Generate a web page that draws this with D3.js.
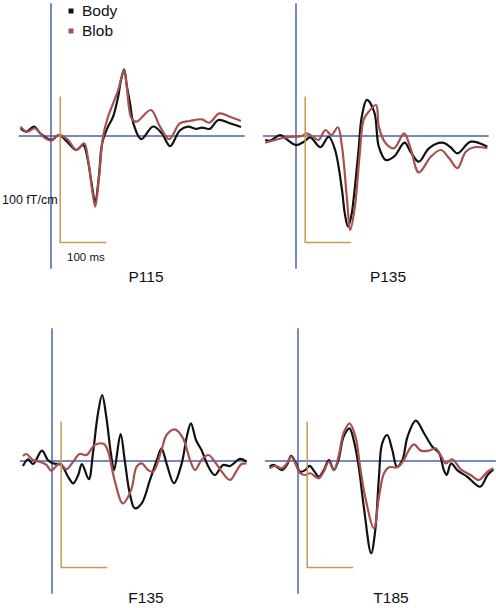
<!DOCTYPE html>
<html>
<head>
<meta charset="utf-8">
<script src="https://cdn.jsdelivr.net/npm/d3@7"></script>
<style>
  body { margin: 0; background: #fff; }
  svg { display: block; font-family: "Liberation Sans", Arial, sans-serif; }
</style>
</head>
<body>
<svg id="chart" width="496" height="608"></svg>
<script>
// sensor names and conditions
const panelNames = ["P115", "P135", "F135", "T185"];
const seriesNames = ["Body", "Blob"];

// [time ms, amplitude fT/cm]
const p115Body = [[-66, 5.3], [-54, 2.9], [-37, 6.4], [-22, 1.4], [1, -2.7], [17, 0.7], [37, -4.6], [55, -9.6], [70, -6.2], [80, -16.4], [89, -34], [96, -45], [104, -28], [109, -9.6], [113, -2.7], [124, 6.4], [135, 13.2], [146, 27], [152, 38], [159, 45.7], [165, 34], [172, 22], [179, 8.7], [196, -2.1], [222, 6.5], [241, 1.8], [259, -6.9], [280, 3.8], [298, 6.4], [315, 4.9], [328, 5.8], [345, 4.9], [364, 11], [389, 8.7], [413, 6.2]];
const p115Blob = [[-66, 6.4], [-52, 2.9], [-35, 5.3], [-17, -0.5], [1, -3.2], [17, 0.7], [37, -2.7], [55, -9.6], [72, -5], [81, -17], [89, -36], [96, -48.4], [104, -30], [113, -0.5], [124, 13.2], [138, 24.7], [146, 31.5], [159, 45.2], [165, 33], [175, 12.1], [186, 9.8], [217, 17.8], [237, 6.4], [257, -2.1], [280, 8.7], [302, 10.3], [328, 11.4], [344, 9.1], [366, 15.5], [389, 13.2], [413, 10.3]];

const p135Body = [[-67, -2.7], [-56, -3.2], [-34, 0.7], [-20, -2.3], [0, -6.2], [17, -3.9], [31, -0.9], [53, -7.7], [71, -0.5], [85, -9.6], [100, -37], [106, -53], [113, -62], [120, -55], [125, -43.8], [136, -9.6], [143, 13.2], [154, 24.7], [170, 16.6], [180, -7.3], [195, -16.4], [213, -14.2], [236, -4.6], [249, -10.8], [267, -17.6], [289, -8.4], [318, -4.6], [336, -7.7], [351, -11.9], [380, -3.9], [416, -7.3]];
const p135Blob = [[-67, -4.6], [-45, -2.7], [-23, -0.9], [-2, -0.5], [13, 0], [24, 1.8], [38, -0.9], [49, -2.7], [64, 4.1], [77, 0.7], [91, 6], [100, -7.3], [111, -43.8], [118, -64.4], [128, -48.4], [138, -14.2], [147, 11], [158, 16.6], [174, 21.2], [180, 6.4], [195, -5], [213, -8.4], [235, 1.8], [249, -8.4], [267, -25], [293, -14.2], [315, -9.6], [333, -15.3], [351, -22], [369, -10.8], [387, -7.7], [416, -8.4]];

const f135Body = [[-63, -3.4], [-52, 1.2], [-41, -2.1], [-22, 7.1], [-9, 0.7], [2, -1.6], [20, -2.7], [35, -10.8], [46, -15.3], [57, -9.6], [65, -2.1], [80, -12.5], [89, 5.3], [100, 32.7], [109, 45.2], [118, 30.3], [128, 5.3], [135, -6.2], [149, 18.5], [158, 0.7], [169, -22.1], [180, -32.4], [195, -29], [213, -13], [228, 0.7], [238, 8.7], [249, -1.6], [265, -15.3], [282, -1.6], [293, 16.6], [302, 25.8], [313, 14.4], [325, 7.5], [340, -3.9], [354, -9.6], [372, -2.7], [387, -3.4], [409, 1.4], [423, -0.5]];
const f135Blob = [[-63, 3.4], [-56, 4.8], [-41, 0.7], [-27, -0.5], [-12, -2.7], [-2, -6.6], [17, -1.6], [31, -5.7], [46, -0.5], [60, 4.8], [75, 4.1], [93, 11], [113, 11.6], [122, 6.4], [136, -13], [154, -29], [172, -19.9], [184, -3.9], [195, -1.6], [209, -6.2], [220, -7.3], [238, 7.5], [249, 17.8], [267, 21.7], [285, 15.5], [300, 0.7], [311, -6.2], [325, 0.7], [340, 4.1], [354, -0.5], [369, -7.3], [387, -13], [402, -6.2], [412, -2.1], [423, -1.6]];

const t185Body = [[-62, -3.9], [-53, -2.7], [-35, -6.2], [-24, -2.7], [-15, 3.6], [-6, -0.5], [5, -7.3], [16, -6.2], [25, -3.4], [36, -7.3], [45, -10.8], [56, -6.2], [67, 0.7], [78, -6.2], [88, 0.7], [99, 16.6], [112, 22.4], [121, 14.4], [132, -3.9], [143, -31.3], [159, -63.2], [168, -47.3], [176, -10.8], [183, 12.1], [194, 17.8], [205, 7.5], [215, -3.9], [227, 0.7], [238, 16.6], [256, 27.6], [274, 19], [292, 9.8], [307, 5.3], [317, -6.2], [323, -9.6], [333, -1.6], [346, -6.2], [368, -10.8], [396, -17.6], [412, -9.6], [425, -5.7]];
const t185Blob = [[-62, -5], [-49, -3.4], [-35, -5], [-24, -1.6], [-15, 2.9], [-6, -1.6], [5, -8.4], [16, -9.6], [27, -8.4], [38, -10.8], [45, -11.9], [56, -7.3], [67, -0.5], [78, -6.2], [88, 2.9], [99, 19], [112, 25.8], [125, 16.6], [135, -3.9], [146, -24.5], [165, -46.1], [176, -24.5], [187, -8.4], [198, -4.3], [216, -4.3], [230, 0.7], [241, 7.5], [252, 11.4], [267, 7.1], [285, 7.1], [299, 8.7], [310, 4.1], [321, -1.6], [335, 1.2], [354, -5.7], [375, -9.6], [393, -13], [412, -7.3], [425, -5]];

const panelData = {
  P115: [p115Body, p115Blob],
  P135: [p135Body, p135Blob],
  F135: [f135Body, f135Blob],
  T185: [t185Body, t185Blob]
};

// where time 0 / 0 fT/cm sits for each panel, plus extent of the baseline
const layout = {
  P115: { x0: 51,  y0: 136, tMin: -70, tMax: 421, labelX: 146, labelY: 282 },
  P135: { x0: 296, y0: 136, tMin: -72, tMax: 419, labelX: 388, labelY: 282 },
  F135: { x0: 52,  y0: 461, tMin: -70, tMax: 424, labelX: 146, labelY: 603 },
  T185: { x0: 298, y0: 461, tMin: -72, tMax: 430, labelX: 391, labelY: 603 }
};

const colors = { Body: "#111111", Blob: "#a8504f" };
const axisColor = "#4a62a8";
const barColor = "#c79a58";

const msPx = 46;     // 100 ms
const ftPx = 146;    // 100 fT/cm

const svg = d3.select("#chart");

panelNames.forEach(name => {
  const L = layout[name];
  const x = d3.scaleLinear().domain([0, 100]).range([L.x0, L.x0 + msPx]);
  const y = d3.scaleLinear().domain([0, 100]).range([L.y0, L.y0 - ftPx]);
  const g = svg.append("g");

  // time zero line and baseline
  g.append("line")
    .attr("x1", x(0)).attr("x2", x(0))
    .attr("y1", y(91)).attr("y2", y(-91))
    .attr("stroke", axisColor).attr("stroke-width", 1.5);
  g.append("line")
    .attr("x1", x(L.tMin)).attr("x2", x(L.tMax))
    .attr("y1", y(0)).attr("y2", y(0))
    .attr("stroke", axisColor).attr("stroke-width", 1.5);

  const line = d3.line()
    .x(d => x(d[0]))
    .y(d => y(d[1]))
    .curve(d3.curveCatmullRom.alpha(0.5));

  panelData[name].forEach((series, i) => {
    g.append("path")
      .datum(series)
      .attr("d", line)
      .attr("fill", "none")
      .attr("stroke", colors[seriesNames[i]])
      .attr("stroke-width", 2.2)
      .attr("stroke-linejoin", "round");
  });

  // scale bar: 100 fT/cm by 100 ms
  g.append("path")
    .attr("d", d3.line()([[x(20), y(27)], [x(20), y(-73)], [x(120), y(-73)]]))
    .attr("fill", "none")
    .attr("stroke", barColor).attr("stroke-width", 1.5);

  g.append("text")
    .attr("x", L.labelX).attr("y", L.labelY)
    .attr("text-anchor", "middle")
    .attr("font-size", 15.5)
    .attr("fill", "#111")
    .text(name);
});

// scale bar labels (first panel only)
svg.append("text")
  .attr("x", 2).attr("y", 204)
  .attr("font-size", 12.5).attr("fill", "#111")
  .text("100 fT/cm");
svg.append("text")
  .attr("x", 67).attr("y", 261)
  .attr("font-size", 11.5).attr("fill", "#111")
  .text("100 ms");

// legend
const legend = svg.append("g");
seriesNames.forEach((s, i) => {
  const ly = 10 + i * 20;
  legend.append("rect")
    .attr("x", 68.5).attr("y", ly - 1.5)
    .attr("width", 5).attr("height", 5)
    .attr("fill", colors[s]);
  legend.append("text")
    .attr("x", 82).attr("y", ly + 6)
    .attr("font-size", 15.5).attr("fill", "#111")
    .text(s);
});
</script>
</body>
</html>
